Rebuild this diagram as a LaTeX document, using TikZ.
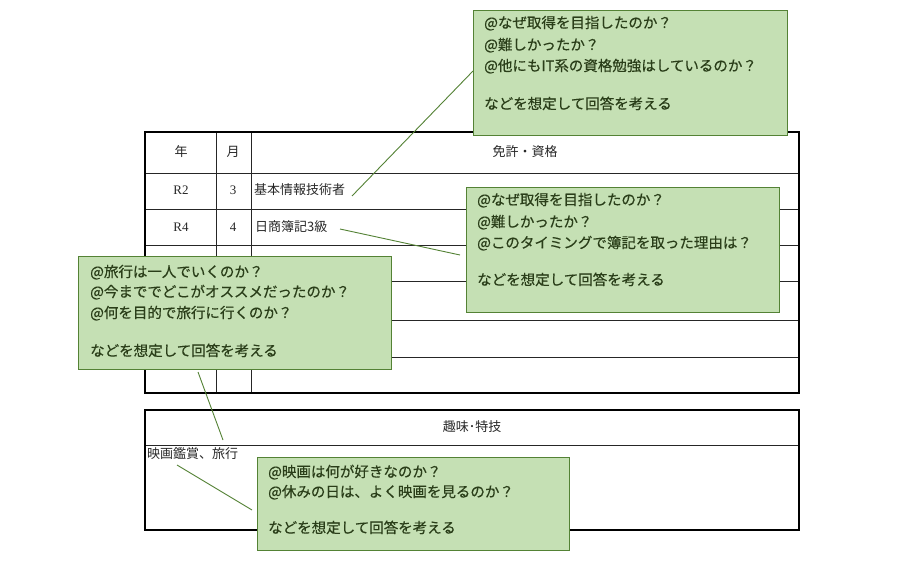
\documentclass[tikz,border=0pt]{standalone}
\usepackage{fontspec}
\setmainfont{Liberation Serif}
\newfontfamily\jp{Noto Sans CJK JP}
\newfontfamily\jpc[FakeBold=0.4]{Noto Sans CJK JP}
\definecolor{cfill}{RGB}{197,224,180}
\definecolor{cedge}{RGB}{84,130,53}
\definecolor{ctext}{RGB}{42,62,25}
\definecolor{ttext}{RGB}{40,40,40}
\begin{document}
\begin{tikzpicture}[x=1pt,y=-1pt,
 callout/.style={draw=cedge, fill=cfill, line width=1pt, rectangle, inner sep=0, anchor=north west},
 ctxt/.style={anchor=base west, inner sep=0, text=ctext, font=\jpc\fontsize{14.5}{17}\selectfont},
 cell/.style={inner sep=0, text=ttext, font=\jp\fontsize{13}{15}\selectfont},
 num/.style={inner sep=0, text=ttext, font=\fontsize{13}{15}\selectfont},
 outerline/.style={line width=1.6pt, black},
 innerline/.style={line width=0.9pt, black!85},
 conn/.style={draw=cedge, line width=0.9pt}]

\useasboundingbox[fill=white] (0,0) rectangle (923,562);

% ---- licence table ----
\foreach \yy in {173,209,245,281,320,357}{\draw[innerline] (145,\yy) -- (799,\yy);}
\draw[innerline] (216,132) -- (216,393);
\draw[innerline] (251,132) -- (251,393);
\draw[outerline] (145,132) rectangle (799,393);

\node[cell] (hy) at (181,152) {年};
\node[cell] (hm) at (233,152) {月};
\node[cell] (hl) at (525,152) {免許・資格};
\node[num] (r2) at (181,190) {R2};
\node[num] (m3) at (233,190) {3};
\node[cell, anchor=west] (kihon) at (254,190) {基本情報技術者};
\node[num] (r4) at (181,227) {R4};
\node[num] (m4) at (233,227) {4};
\node[cell, anchor=west] (boki) at (255,227) {日商簿記3級};

% ---- hobby table ----
\draw[innerline] (145,445) -- (799,445);
\draw[outerline] (145,410) rectangle (799,530);
\node[cell] (hh) at (472,427) {趣味･特技};
\node[cell, anchor=west] (hobby) at (147,454) {映画鑑賞、旅行};

% ---- connectors ----
\coordinate (k1) at (352,196);
\coordinate (k1e) at (473,71);
\coordinate (k2) at (340,229);
\coordinate (k2e) at (460,255);
\coordinate (k3) at (198,372);
\coordinate (k3e) at (223,440);
\coordinate (k4) at (177,465);
\coordinate (k4e) at (252,510);
\draw[conn] (k1) -- (k1e);
\draw[conn] (k2) -- (k2e);
\draw[conn] (k3) -- (k3e);
\draw[conn] (k4) -- (k4e);

% ---- callouts ----
\node[callout, minimum width=314, minimum height=125] (c1) at (473,10) {};
\node[ctxt] (c1a) at (484,28) {@なぜ取得を目指したのか？};
\node[ctxt] (c1b) at (484,50) {@難しかったか？};
\node[ctxt] (c1c) at (484,71) {@他にもIT系の資格勉強はしているのか？};
\node[ctxt] (c1d) at (484,109) {などを想定して回答を考える};

\node[callout, minimum width=313, minimum height=125] (c2) at (466,187) {};
\node[ctxt] (c2a) at (477,205) {@なぜ取得を目指したのか？};
\node[ctxt] (c2b) at (477,227) {@難しかったか？};
\node[ctxt] (c2c) at (477,248) {@このタイミングで簿記を取った理由は？};
\node[ctxt] (c2d) at (477,285) {などを想定して回答を考える};

\node[callout, minimum width=313, minimum height=113] (c3) at (78,256) {};
\node[ctxt] (c3a) at (90,277) {@旅行は一人でいくのか？};
\node[ctxt] (c3b) at (90,297) {@今まででどこがオススメだったのか？};
\node[ctxt] (c3c) at (90,318) {@何を目的で旅行に行くのか？};
\node[ctxt] (c3d) at (90,356) {などを想定して回答を考える};

\node[callout, minimum width=312, minimum height=93] (c4) at (257,457) {};
\node[ctxt] (c4a) at (268,477) {@映画は何が好きなのか？};
\node[ctxt] (c4b) at (268,497) {@休みの日は、よく映画を見るのか？};
\node[ctxt] (c4c) at (268,533) {などを想定して回答を考える};
\end{tikzpicture}
\end{document}
